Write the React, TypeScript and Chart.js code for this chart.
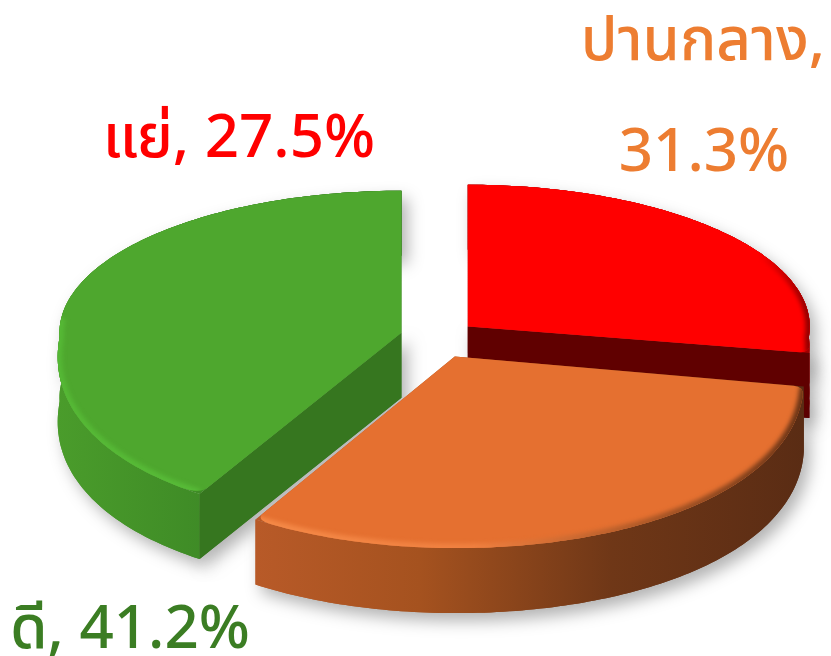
import React, { useEffect, useRef } from "react";
import { Chart, registerables } from "chart.js";

Chart.register(...registerables);

const categories = ["แย่", "ปานกลาง", "ดี"];
const shares = [27.5, 31.3, 41.2];
const topColors = ["#FF0000", "#E57030", "#4EA72E"];
const innerColors = ["#600000", "#8a4420", "#36761F"];
const labelColors = ["#FF0000", "#ED7D31", "#3B7D23"];

const FONT = '"Noto Sans Thai", "Noto Sans Thai Looped", "Leelawadee UI", Tahoma, "Noto Sans", sans-serif';
const RADIUS_X = 342;
const K_BACK = 0.415;
const K_FRONT = 0.56;
const PERSPECTIVE = 0.125;
const DEPTH = 65;
const CORNER = 10;

const wallStops: [number, string][][] = [
  [[0, "#a00000"], [1, "#a00000"]],
  [[0, "#b85a28"], [0.3, "#a5521f"], [0.65, "#6f3717"], [1, "#5a2c14"]],
  [[0, "#4a9c2b"], [0.45, "#3e8a26"], [1, "#357420"]],
];
const rimStops: [number, string][][] = [
  [[0, "#FF0000"], [0.85, "#FF0000"], [1, "#900000"]],
  [[0, "#F58A48"], [0.4, "#F08040"], [0.7, "#B05A28"], [1, "#6a3416"]],
  [[0, "#55B835"], [1, "#5CC03C"]],
];
const visibleInnerEnd: (number | null)[] = [1, null, 0];
const roundStart = [false, true, true];
const roundEnd = [true, true, false];

const pie3d = {
  id: "pie3d",
  beforeDatasetsDraw(chart: any) {
    const ctx: CanvasRenderingContext2D = chart.ctx;
    const arcs = chart.getDatasetMeta(0).data;
    const order = [0, 2, 1];
    for (const i of order) {
      const a = arcs[i];
      const R = a.outerRadius;
      const scale = RADIUS_X / R;
      const mid = (a.startAngle + a.endAngle) / 2;
      const off = a.options.offset;
      const ox = Math.cos(mid) * off;
      const oy = Math.sin(mid) * off;
      const P = (px: number, py: number): [number, number] => {
        const k = py < 0 ? K_BACK : K_FRONT;
        const widen = 1 + (py > 0 ? (PERSPECTIVE * py) / R : 0);
        return [a.x + px * scale * widen, a.y + py * scale * k];
      };
      const rim: [number, number][] = [];
      const frontRim: [number, number][] = [];
      const N = 120;
      for (let s = 0; s <= N; s++) {
        const t = a.startAngle + ((a.endAngle - a.startAngle) * s) / N;
        const p = P(ox + Math.cos(t) * R, oy + Math.sin(t) * R);
        rim.push(p);
        if (i === 0 || Math.sin(t) > -0.12) frontRim.push(p);
      }
      const apex = P(ox, oy);
      const xs = rim.map((p) => p[0]).concat(apex[0]);
      const minX = Math.min(...xs);
      const maxX = Math.max(...xs);

      const trace = (pts: [number, number][]) => {
        ctx.beginPath();
        pts.forEach((p, j) => (j ? ctx.lineTo(p[0], p[1]) : ctx.moveTo(p[0], p[1])));
        ctx.closePath();
      };
      const towards = (from: [number, number], to: [number, number], d: number): [number, number] => {
        const len = Math.hypot(to[0] - from[0], to[1] - from[1]);
        return [from[0] + ((to[0] - from[0]) * d) / len, from[1] + ((to[1] - from[1]) * d) / len];
      };
      const traceTop = () => {
        const a0 = towards(rim[0], apex, CORNER);
        const aN = towards(rim[N], apex, CORNER);
        ctx.beginPath();
        ctx.moveTo(apex[0], apex[1]);
        if (roundStart[i]) {
          ctx.lineTo(a0[0], a0[1]);
          ctx.quadraticCurveTo(rim[0][0], rim[0][1], rim[3][0], rim[3][1]);
        } else {
          ctx.lineTo(rim[0][0], rim[0][1]);
        }
        for (let j = 4; j <= N - 3; j++) ctx.lineTo(rim[j][0], rim[j][1]);
        if (roundEnd[i]) {
          ctx.quadraticCurveTo(rim[N][0], rim[N][1], aN[0], aN[1]);
        } else {
          ctx.lineTo(rim[N][0], rim[N][1]);
        }
        ctx.closePath();
      };

      const grad = ctx.createLinearGradient(minX, 0, maxX, 0);
      wallStops[i].forEach(([o, c]) => grad.addColorStop(o, c));
      const band: [number, number][] = [
        ...rim,
        ...rim.slice().reverse().map((p) => [p[0], p[1] + DEPTH] as [number, number]),
      ];
      const inner = visibleInnerEnd[i];
      const end = inner === null ? null : rim[inner === 0 ? 0 : N];
      const innerQuad: [number, number][] | null = end && [
        apex,
        end,
        [end[0], end[1] + DEPTH],
        [apex[0], apex[1] + DEPTH],
      ];

      ctx.save();
      ctx.shadowColor = "rgba(0,0,0,0.3)";
      ctx.shadowBlur = 16;
      ctx.shadowOffsetX = 6;
      ctx.shadowOffsetY = 8;
      ctx.fillStyle = grad;
      trace(band);
      ctx.fill();
      if (innerQuad) {
        ctx.fillStyle = innerColors[i];
        trace(innerQuad);
        ctx.fill();
      }
      ctx.restore();

      ctx.fillStyle = grad;
      trace(band);
      ctx.fill();
      trace([apex, ...rim]);
      ctx.fill();
      if (innerQuad) {
        ctx.fillStyle = innerColors[i];
        trace(innerQuad);
        ctx.fill();
      }

      ctx.fillStyle = topColors[i];
      traceTop();
      ctx.fill();

      ctx.save();
      traceTop();
      ctx.clip();
      const rimGrad = ctx.createLinearGradient(minX, 0, maxX, 0);
      rimStops[i].forEach(([o, c]) => rimGrad.addColorStop(o, c));
      ctx.filter = "blur(2px)";
      ctx.strokeStyle = rimGrad;
      ctx.lineWidth = 9;
      ctx.beginPath();
      frontRim.forEach((p, j) => (j ? ctx.lineTo(p[0], p[1]) : ctx.moveTo(p[0], p[1])));
      ctx.stroke();
      ctx.restore();
    }
    return false;
  },
  afterDraw(chart: any) {
    const ctx: CanvasRenderingContext2D = chart.ctx;
    const data = chart.data.datasets[0].data;
    const names = chart.data.labels;
    ctx.save();
    ctx.font = `500 60px ${FONT}`;
    ctx.textBaseline = "alphabetic";
    ctx.textAlign = "center";
    ctx.fillStyle = labelColors[0];
    ctx.fillText(`${names[0]}, ${data[0]}%`, 239, 157);
    ctx.fillStyle = labelColors[1];
    ctx.fillText(`${names[1]},`, 703, 60);
    ctx.fillText(`${data[1]}%`, 704, 171);
    ctx.fillStyle = labelColors[2];
    ctx.fillText(`${names[2]}, ${data[2]}%`, 130, 648);
    ctx.restore();
  },
};

export default function App() {
  const ref = useRef<HTMLCanvasElement>(null);
  useEffect(() => {
    const chart = new Chart(ref.current as HTMLCanvasElement, {
      type: "pie",
      data: {
        labels: categories,
        datasets: [{ data: shares, backgroundColor: topColors, offset: 34, borderWidth: 0 }],
      },
      options: {
        animation: false,
        responsive: false,
        layout: { padding: { left: 46, top: 18 } },
        plugins: { legend: { display: false }, tooltip: { enabled: false } },
      },
      plugins: [pie3d as any],
    });
    return () => chart.destroy();
  }, []);
  return (
    <div style={{ position: "absolute", left: 0, top: 0, width: 831, height: 656, background: "#fff" }}>
      <canvas ref={ref} width={831} height={656} style={{ display: "block" }} />
    </div>
  );
}
